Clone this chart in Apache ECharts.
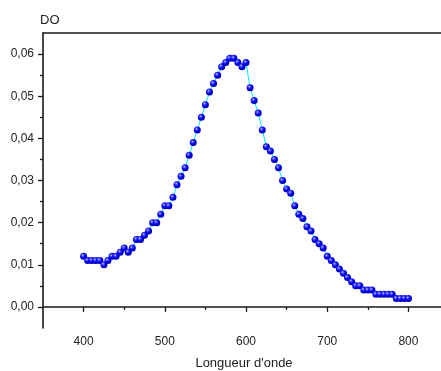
<!DOCTYPE html>
<html>
<head>
<meta charset="utf-8">
<script src="https://cdn.jsdelivr.net/npm/echarts@6/dist/echarts.min.js"></script>
<style>
  html, body { margin: 0; padding: 0; background: #fff; }
  #chart { width: 441px; height: 371px; }
</style>
</head>
<body>
<div id="chart"></div>
<script>
// Absorbance spectrum: wavelength (nm) vs optical density
const wavelengths = [
  400, 405, 410, 415, 420, 425, 430, 435, 440, 445,
  450, 455, 460, 465, 470, 475, 480, 485, 490, 495,
  500, 505, 510, 515, 520, 525, 530, 535, 540, 545,
  550, 555, 560, 565, 570, 575, 580, 585, 590, 595,
  600, 605, 610, 615, 620, 625, 630, 635, 640, 645,
  650, 655, 660, 665, 670, 675, 680, 685, 690, 695,
  700, 705, 710, 715, 720, 725, 730, 735, 740, 745,
  750, 755, 760, 765, 770, 775, 780, 785, 790, 795,
  800
];
const absorbance = [
  0.012, 0.011, 0.011, 0.011, 0.011, 0.010, 0.011, 0.012, 0.012, 0.013,
  0.014, 0.013, 0.014, 0.016, 0.016, 0.017, 0.018, 0.020, 0.020, 0.022,
  0.024, 0.024, 0.026, 0.029, 0.031, 0.033, 0.036, 0.039, 0.042, 0.045,
  0.048, 0.051, 0.053, 0.055, 0.057, 0.058, 0.059, 0.059, 0.058, 0.057,
  0.058, 0.052, 0.049, 0.046, 0.042, 0.038, 0.037, 0.035, 0.033, 0.030,
  0.028, 0.027, 0.024, 0.022, 0.021, 0.019, 0.018, 0.016, 0.015, 0.014,
  0.012, 0.011, 0.010, 0.009, 0.008, 0.007, 0.006, 0.005, 0.005, 0.004,
  0.004, 0.004, 0.003, 0.003, 0.003, 0.003, 0.003, 0.002, 0.002, 0.002,
  0.002
];

// Tick positions
const xMajorTicks = [400, 500, 600, 700, 800];
const xMinorTicks = [450, 550, 650, 750];
const yMajorTicks = [0.00, 0.01, 0.02, 0.03, 0.04, 0.05, 0.06];
const yMinorTicks = [0.005, 0.015, 0.025, 0.035, 0.045, 0.055];

const xTitle = "Longueur d'onde";
const yTitle = 'DO';

const X_MIN = 350, X_MAX = 845;
const Y_MIN = -0.005, Y_MAX = 0.065;

const FONT = '"Liberation Sans", Arial, sans-serif';
const AXIS_COLOR = '#1a1a1a';

const points = wavelengths.map((w, i) => [w, absorbance[i]]);

const chart = echarts.init(document.getElementById('chart'), null, { renderer: 'canvas' });

const hiddenAxisBits = {
  axisLabel: { show: false },
  splitLine: { show: false }
};

chart.setOption({
  animation: false,
  backgroundColor: '#ffffff',
  grid: {
    left: 43, top: 33, right: -4, bottom: 43,
    containLabel: false,
    outerBoundsMode: 'none'
  },
  xAxis: [
    {
      type: 'value', min: X_MIN, max: X_MAX, position: 'bottom',
      axisLine: { show: true, lineStyle: { color: AXIS_COLOR, width: 1.6 } },
      axisTick: { show: true, customValues: xMajorTicks, length: 5, inside: false,
                  lineStyle: { color: AXIS_COLOR, width: 1.3 } },
      axisLabel: { show: true, customValues: xMajorTicks, margin: 8,
                   fontFamily: FONT, fontSize: 12, color: '#222' },
      splitLine: { show: false },
      name: xTitle, nameLocation: 'middle', nameGap: 29,
      nameTextStyle: { fontFamily: FONT, fontSize: 13, color: '#222' }
    },
    Object.assign({
      type: 'value', min: X_MIN, max: X_MAX, position: 'bottom',
      axisLine: { show: false },
      axisTick: { show: true, customValues: xMinorTicks, length: 3, inside: false,
                  lineStyle: { color: AXIS_COLOR, width: 1.3 } }
    }, hiddenAxisBits),
    Object.assign({
      type: 'value', min: X_MIN, max: X_MAX, position: 'top',
      axisLine: { show: true, lineStyle: { color: AXIS_COLOR, width: 1.6 } },
      axisTick: { show: false }
    }, hiddenAxisBits)
  ],
  yAxis: [
    {
      type: 'value', min: Y_MIN, max: Y_MAX, position: 'left',
      axisLine: { show: true, lineStyle: { color: AXIS_COLOR, width: 1.6 } },
      axisTick: { show: true, customValues: yMajorTicks, length: 5, inside: false,
                  lineStyle: { color: AXIS_COLOR, width: 1.3 } },
      axisLabel: { show: true, customValues: yMajorTicks, margin: 9,
                   fontFamily: FONT, fontSize: 12, color: '#222',
                   formatter: v => v.toFixed(2).replace('.', ',') },
      splitLine: { show: false }
    },
    Object.assign({
      type: 'value', min: Y_MIN, max: Y_MAX, position: 'left',
      axisLine: { show: false },
      axisTick: { show: true, customValues: yMinorTicks, length: 3, inside: false,
                  lineStyle: { color: AXIS_COLOR, width: 1.3 } }
    }, hiddenAxisBits)
  ],
  graphic: [
    {
      type: 'text', left: 40, top: 14,
      style: { text: yTitle, fontFamily: FONT, fontSize: 13, fill: '#222' }
    }
  ],
  series: [
    {
      type: 'line',
      xAxisIndex: 0, yAxisIndex: 0,
      data: points,
      showSymbol: true,
      symbol: 'circle',
      symbolSize: 7,
      lineStyle: { color: '#00e8ff', width: 1 },
      itemStyle: {
        color: {
          type: 'radial', x: 0.38, y: 0.35, r: 0.7,
          colorStops: [
            { offset: 0, color: '#d8dcff' },
            { offset: 0.22, color: '#4a4aff' },
            { offset: 0.55, color: '#0000f0' },
            { offset: 1, color: '#00009a' }
          ]
        },
        borderWidth: 0
      },
      emphasis: { disabled: true }
    }
  ]
});
</script>
</body>
</html>
